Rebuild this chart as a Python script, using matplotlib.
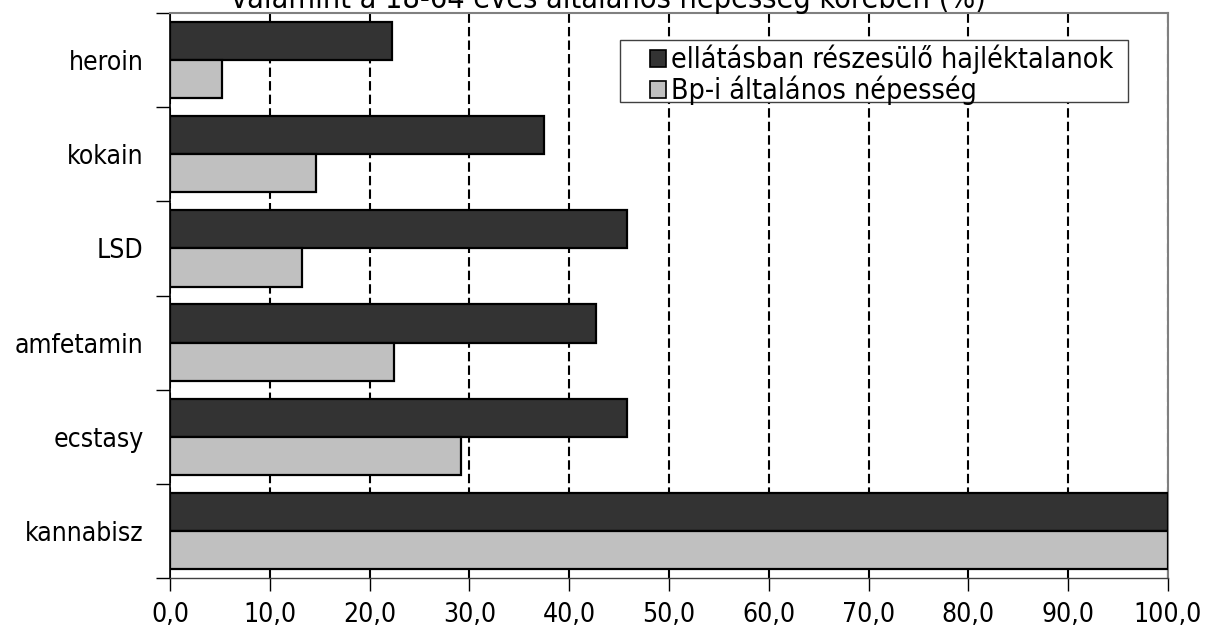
import numpy as np
import matplotlib.pyplot as plt
from matplotlib.patches import Patch, Rectangle

# Szerhasználat aránya (%) – felülről lefelé
szerek = ['heroin', 'kokain', 'LSD', 'amfetamin', 'ecstasy', 'kannabisz']
hajlektalanok = [22.2, 37.5, 45.8, 42.7, 45.8, 100.0]
bp_nepesseg = [5.2, 14.6, 13.2, 22.4, 29.2, 100.0]

sorozat_nevek = ['ellátásban részesülő hajléktalanok', 'Bp-i általános népesség']
szinek = ['#333333', '#c0c0c0']
x_tickek = np.arange(0, 101, 10)

plt.rcParams['font.family'] = ['DejaVu Sans']
plt.rcParams['font.stretch'] = 'condensed'
meret = 19

fig = plt.figure(figsize=(12.05, 6.3), dpi=100)
ax = fig.add_axes([0.1411, 0.0825, 0.8282, 0.8969])

n = len(szerek)
y = np.arange(n)
h = 0.405
ax.barh(y - h / 2, hajlektalanok, height=h, color=szinek[0], edgecolor='black', linewidth=1.6, zorder=3)
ax.barh(y + h / 2, bp_nepesseg, height=h, color=szinek[1], edgecolor='black', linewidth=1.6, zorder=3)

ax.set_ylim(n - 0.5, -0.5)
ax.set_xlim(0, 100)

# kategóriahatárokon osztásjel, középen felirat
ax.set_yticks(np.arange(n + 1) - 0.5)
ax.set_yticklabels([])
ax.set_yticks(y, minor=True)
ax.set_yticklabels(szerek, minor=True, fontsize=meret)
ax.tick_params(axis='y', which='major', direction='out', length=10, width=1)
ax.tick_params(axis='y', which='minor', length=0, pad=19)

ax.set_xticks(x_tickek)
ax.set_xticklabels([f'{v:.1f}'.replace('.', ',') for v in x_tickek], fontsize=meret)
ax.tick_params(axis='x', direction='out', length=9, width=1, pad=8)

ax.grid(axis='x', color='black', linestyle=(0, (4.5, 2)), linewidth=1.5, zorder=1)
ax.set_axisbelow(True)

for s in ['top', 'right']:
    ax.spines[s].set_color('#808080')
    ax.spines[s].set_linewidth(1.5)
ax.spines['left'].set_color('black')
ax.spines['left'].set_linewidth(1.2)
ax.spines['bottom'].set_color('#404040')
ax.spines['bottom'].set_linewidth(1)

fig.text(0.505, 1 - 8 / 630, 'valamint a 18-64 éves általános népesség körében (%)',
         ha='center', va='baseline', fontsize=meret * 1.15)

# jelmagyarázat kerete külön, a bejegyzések beljebb kezdődnek
fig.patches.append(Rectangle((620 / 1205, 1 - 102 / 630), 508 / 1205, 62 / 630,
                             transform=fig.transFigure, facecolor='white',
                             edgecolor='#404040', linewidth=1, zorder=5))
kezelok = [Patch(facecolor=c, edgecolor='black', linewidth=1.2) for c in szinek]
leg = fig.legend(kezelok, sorozat_nevek, loc='upper left', bbox_to_anchor=(647 / 1205, 1 - 42 / 630),
                 fontsize=meret * 1.08, frameon=False,
                 handlelength=0.55, handleheight=0.55, handletextpad=0.2,
                 labelspacing=0.05, borderpad=0.1, borderaxespad=0)
leg.set_zorder(6)

fig.savefig('out.png', dpi=100)
